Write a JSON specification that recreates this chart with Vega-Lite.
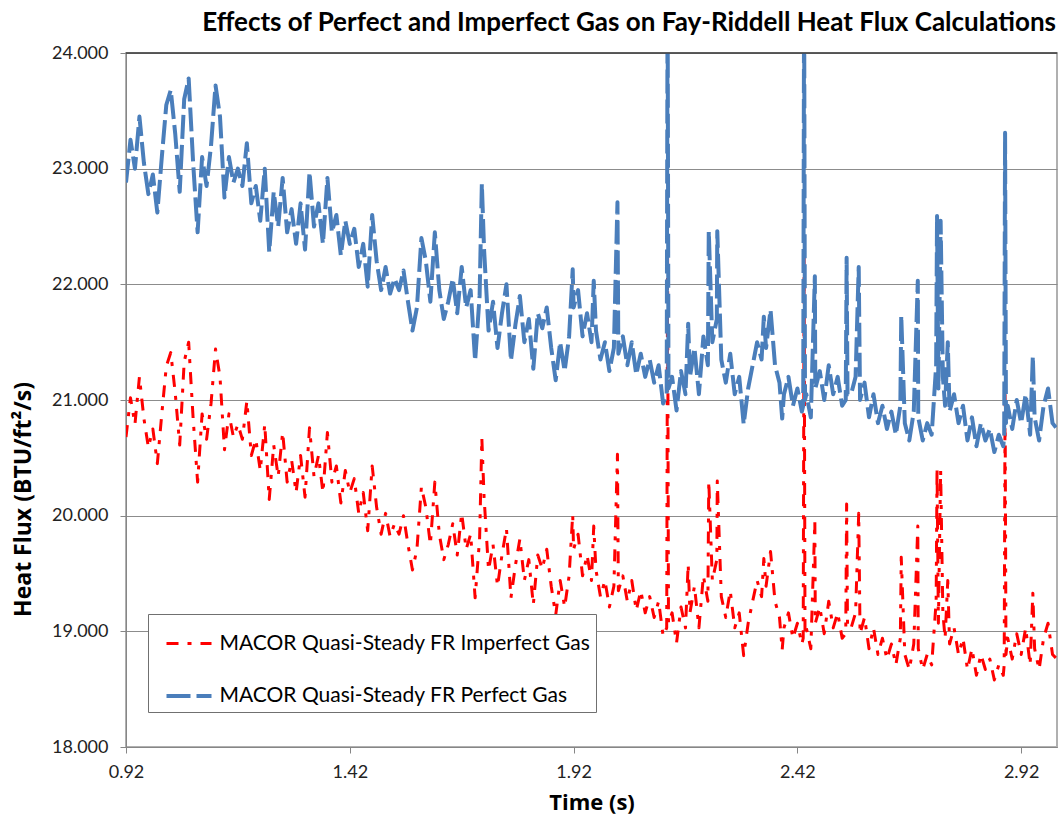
{
"$schema": "https://vega.github.io/schema/vega-lite/v6.json",
"width": 931, "height": 694,
"autosize": {"type": "none"},
"padding": {"left": 126, "top": 53, "right": 2, "bottom": 76},
"background": "white",
"title": {"text": "Effects of Perfect and Imperfect Gas on Fay-Riddell Heat Flux Calculations", "anchor": "end", "frame": "group", "font": "Lato", "fontSize": 26, "fontWeight": "bold", "color": "#000000", "offset": 8, "dx": -1},
"config": {"view": {"stroke": "#b0b0b0", "strokeWidth": 2}},
"layer": [
{
"data": {"values": [
{"t":0.92,"Perfect":22.88,"Imperfect":20.68},{"t":0.93,"Perfect":23.25,"Imperfect":21.02},{"t":0.94,"Perfect":23.00,"Imperfect":20.79},{"t":0.95,"Perfect":23.45,"Imperfect":21.20},{"t":0.96,"Perfect":23.05,"Imperfect":20.84},{"t":0.97,"Perfect":22.78,"Imperfect":20.59},{"t":0.98,"Perfect":22.95,"Imperfect":20.75},{"t":0.99,"Perfect":22.62,"Imperfect":20.45},
{"t":1.00,"Perfect":23.10,"Imperfect":20.88},{"t":1.01,"Perfect":23.55,"Imperfect":21.29},{"t":1.02,"Perfect":23.68,"Imperfect":21.41},{"t":1.03,"Perfect":23.30,"Imperfect":21.06},{"t":1.04,"Perfect":22.80,"Imperfect":20.61},{"t":1.05,"Perfect":23.60,"Imperfect":21.33},{"t":1.06,"Perfect":23.78,"Imperfect":21.50},{"t":1.07,"Perfect":23.05,"Imperfect":20.84},{"t":1.08,"Perfect":22.45,"Imperfect":20.29},{"t":1.09,"Perfect":23.10,"Imperfect":20.88},
{"t":1.10,"Perfect":22.85,"Imperfect":20.66},{"t":1.11,"Perfect":23.20,"Imperfect":20.97},{"t":1.12,"Perfect":23.72,"Imperfect":21.44},{"t":1.13,"Perfect":23.45,"Imperfect":21.20},{"t":1.14,"Perfect":22.75,"Imperfect":20.57},{"t":1.15,"Perfect":23.10,"Imperfect":20.88},{"t":1.16,"Perfect":22.88,"Imperfect":20.68},{"t":1.17,"Perfect":23.00,"Imperfect":20.79},{"t":1.18,"Perfect":22.85,"Imperfect":20.66},{"t":1.19,"Perfect":23.22,"Imperfect":20.99},
{"t":1.20,"Perfect":22.70,"Imperfect":20.52},{"t":1.21,"Perfect":22.85,"Imperfect":20.66},{"t":1.22,"Perfect":22.55,"Imperfect":20.39},{"t":1.23,"Perfect":23.00,"Imperfect":20.79},{"t":1.24,"Perfect":22.28,"Imperfect":20.14},{"t":1.25,"Perfect":22.80,"Imperfect":20.61},{"t":1.26,"Perfect":22.50,"Imperfect":20.34},{"t":1.27,"Perfect":22.92,"Imperfect":20.72},{"t":1.28,"Perfect":22.45,"Imperfect":20.29},{"t":1.29,"Perfect":22.65,"Imperfect":20.48},
{"t":1.30,"Perfect":22.35,"Imperfect":20.20},{"t":1.31,"Perfect":22.70,"Imperfect":20.52},{"t":1.32,"Perfect":22.30,"Imperfect":20.16},{"t":1.33,"Perfect":22.97,"Imperfect":20.76},{"t":1.34,"Perfect":22.50,"Imperfect":20.34},{"t":1.35,"Perfect":22.70,"Imperfect":20.52},{"t":1.36,"Perfect":22.35,"Imperfect":20.20},{"t":1.37,"Perfect":22.92,"Imperfect":20.72},{"t":1.38,"Perfect":22.45,"Imperfect":20.29},{"t":1.39,"Perfect":22.60,"Imperfect":20.43},
{"t":1.40,"Perfect":22.25,"Imperfect":20.11},{"t":1.41,"Perfect":22.55,"Imperfect":20.39},{"t":1.42,"Perfect":22.35,"Imperfect":20.20},{"t":1.43,"Perfect":22.48,"Imperfect":20.32},{"t":1.44,"Perfect":22.15,"Imperfect":20.02},{"t":1.45,"Perfect":22.35,"Imperfect":20.20},{"t":1.46,"Perfect":21.98,"Imperfect":19.87},{"t":1.47,"Perfect":22.60,"Imperfect":20.43},{"t":1.48,"Perfect":22.20,"Imperfect":20.07},{"t":1.49,"Perfect":21.95,"Imperfect":19.84},
{"t":1.50,"Perfect":22.15,"Imperfect":20.02},{"t":1.51,"Perfect":21.92,"Imperfect":19.82},{"t":1.52,"Perfect":22.05,"Imperfect":19.93},{"t":1.53,"Perfect":21.95,"Imperfect":19.84},{"t":1.54,"Perfect":22.12,"Imperfect":20.00},{"t":1.55,"Perfect":21.85,"Imperfect":19.75},{"t":1.56,"Perfect":21.60,"Imperfect":19.53},{"t":1.57,"Perfect":21.80,"Imperfect":19.71},{"t":1.58,"Perfect":22.40,"Imperfect":20.25},{"t":1.59,"Perfect":22.20,"Imperfect":20.07},
{"t":1.60,"Perfect":21.85,"Imperfect":19.75},{"t":1.61,"Perfect":22.45,"Imperfect":20.29},{"t":1.62,"Perfect":21.95,"Imperfect":19.84},{"t":1.63,"Perfect":21.70,"Imperfect":19.62},{"t":1.64,"Perfect":21.85,"Imperfect":19.75},{"t":1.65,"Perfect":22.05,"Imperfect":19.93},{"t":1.66,"Perfect":21.75,"Imperfect":19.66},{"t":1.67,"Perfect":22.15,"Imperfect":20.02},{"t":1.68,"Perfect":21.80,"Imperfect":19.71},{"t":1.69,"Perfect":21.95,"Imperfect":19.84},
{"t":1.70,"Perfect":21.34,"Imperfect":19.29},{"t":1.71,"Perfect":21.90,"Imperfect":19.80},{"t":1.715,"Perfect":22.87,"Imperfect":20.67},{"t":1.72,"Perfect":22.30,"Imperfect":20.16},{"t":1.73,"Perfect":21.60,"Imperfect":19.53},{"t":1.74,"Perfect":21.85,"Imperfect":19.75},{"t":1.75,"Perfect":21.45,"Imperfect":19.39},{"t":1.76,"Perfect":21.75,"Imperfect":19.66},{"t":1.77,"Perfect":22.00,"Imperfect":19.89},{"t":1.78,"Perfect":21.34,"Imperfect":19.29},{"t":1.79,"Perfect":21.65,"Imperfect":19.57},
{"t":1.80,"Perfect":21.90,"Imperfect":19.80},{"t":1.81,"Perfect":21.50,"Imperfect":19.44},{"t":1.82,"Perfect":21.70,"Imperfect":19.62},{"t":1.83,"Perfect":21.27,"Imperfect":19.23},{"t":1.84,"Perfect":21.75,"Imperfect":19.66},{"t":1.85,"Perfect":21.62,"Imperfect":19.54},{"t":1.86,"Perfect":21.80,"Imperfect":19.71},{"t":1.87,"Perfect":21.45,"Imperfect":19.39},{"t":1.88,"Perfect":21.17,"Imperfect":19.14},{"t":1.89,"Perfect":21.50,"Imperfect":19.44},
{"t":1.90,"Perfect":21.25,"Imperfect":19.21},{"t":1.91,"Perfect":21.55,"Imperfect":19.48},{"t":1.918,"Perfect":22.13,"Imperfect":20.01},{"t":1.92,"Perfect":21.80,"Imperfect":19.71},{"t":1.93,"Perfect":21.95,"Imperfect":19.84},{"t":1.94,"Perfect":21.55,"Imperfect":19.48},{"t":1.95,"Perfect":21.75,"Imperfect":19.66},{"t":1.96,"Perfect":21.50,"Imperfect":19.44},{"t":1.965,"Perfect":22.03,"Imperfect":19.91},{"t":1.97,"Perfect":21.60,"Imperfect":19.53},{"t":1.98,"Perfect":21.35,"Imperfect":19.30},{"t":1.99,"Perfect":21.50,"Imperfect":19.44},
{"t":2.00,"Perfect":21.25,"Imperfect":19.21},{"t":2.01,"Perfect":21.45,"Imperfect":19.39},{"t":2.018,"Perfect":22.71,"Imperfect":20.53},{"t":2.02,"Perfect":21.40,"Imperfect":19.35},{"t":2.03,"Perfect":21.55,"Imperfect":19.48},{"t":2.04,"Perfect":21.30,"Imperfect":19.26},{"t":2.05,"Perfect":21.50,"Imperfect":19.44},{"t":2.06,"Perfect":21.22,"Imperfect":19.18},{"t":2.07,"Perfect":21.40,"Imperfect":19.35},{"t":2.08,"Perfect":21.20,"Imperfect":19.16},{"t":2.09,"Perfect":21.35,"Imperfect":19.30},
{"t":2.10,"Perfect":21.15,"Imperfect":19.12},{"t":2.11,"Perfect":21.30,"Imperfect":19.26},{"t":2.12,"Perfect":20.97,"Imperfect":18.96},{"t":2.128,"Perfect":21.05,"Imperfect":19.03},{"t":2.13,"Perfect":24.60,"Imperfect":22.24},{"t":2.132,"Perfect":21.10,"Imperfect":19.07},{"t":2.14,"Perfect":21.20,"Imperfect":19.16},{"t":2.15,"Perfect":20.91,"Imperfect":18.90},{"t":2.16,"Perfect":21.25,"Imperfect":19.21},{"t":2.17,"Perfect":21.05,"Imperfect":19.03},{"t":2.176,"Perfect":21.66,"Imperfect":19.58},{"t":2.18,"Perfect":21.20,"Imperfect":19.16},{"t":2.19,"Perfect":21.45,"Imperfect":19.39},
{"t":2.20,"Perfect":21.05,"Imperfect":19.03},{"t":2.21,"Perfect":21.55,"Imperfect":19.48},{"t":2.22,"Perfect":21.30,"Imperfect":19.26},{"t":2.222,"Perfect":22.46,"Imperfect":20.30},{"t":2.23,"Perfect":21.50,"Imperfect":19.44},{"t":2.24,"Perfect":21.70,"Imperfect":19.62},{"t":2.241,"Perfect":22.46,"Imperfect":20.30},{"t":2.25,"Perfect":21.35,"Imperfect":19.30},{"t":2.26,"Perfect":21.15,"Imperfect":19.12},{"t":2.27,"Perfect":21.40,"Imperfect":19.35},{"t":2.28,"Perfect":21.05,"Imperfect":19.03},{"t":2.29,"Perfect":21.20,"Imperfect":19.16},
{"t":2.30,"Perfect":20.79,"Imperfect":18.79},{"t":2.31,"Perfect":21.10,"Imperfect":19.07},{"t":2.32,"Perfect":21.30,"Imperfect":19.26},{"t":2.33,"Perfect":21.50,"Imperfect":19.44},{"t":2.34,"Perfect":21.35,"Imperfect":19.30},{"t":2.345,"Perfect":21.72,"Imperfect":19.63},{"t":2.35,"Perfect":21.45,"Imperfect":19.39},{"t":2.36,"Perfect":21.78,"Imperfect":19.69},{"t":2.37,"Perfect":21.30,"Imperfect":19.26},{"t":2.38,"Perfect":21.15,"Imperfect":19.12},{"t":2.386,"Perfect":20.84,"Imperfect":18.84},{"t":2.39,"Perfect":21.05,"Imperfect":19.03},
{"t":2.40,"Perfect":21.20,"Imperfect":19.16},{"t":2.41,"Perfect":20.95,"Imperfect":18.94},{"t":2.42,"Perfect":21.10,"Imperfect":19.07},{"t":2.43,"Perfect":20.90,"Imperfect":18.89},{"t":2.433,"Perfect":20.95,"Imperfect":18.94},{"t":2.435,"Perfect":24.60,"Imperfect":22.24},{"t":2.437,"Perfect":21.00,"Imperfect":18.98},{"t":2.44,"Perfect":21.05,"Imperfect":19.03},{"t":2.45,"Perfect":20.85,"Imperfect":18.85},{"t":2.459,"Perfect":22.07,"Imperfect":19.95},{"t":2.46,"Perfect":21.10,"Imperfect":19.07},{"t":2.47,"Perfect":21.25,"Imperfect":19.21},{"t":2.48,"Perfect":21.00,"Imperfect":18.98},{"t":2.49,"Perfect":21.30,"Imperfect":19.26},
{"t":2.50,"Perfect":21.05,"Imperfect":19.03},{"t":2.51,"Perfect":21.20,"Imperfect":19.16},{"t":2.52,"Perfect":20.95,"Imperfect":18.94},{"t":2.528,"Perfect":21.00,"Imperfect":18.98},{"t":2.53,"Perfect":22.23,"Imperfect":20.10},{"t":2.532,"Perfect":21.05,"Imperfect":19.03},{"t":2.54,"Perfect":21.05,"Imperfect":19.03},{"t":2.55,"Perfect":21.20,"Imperfect":19.16},{"t":2.557,"Perfect":22.15,"Imperfect":20.02},{"t":2.56,"Perfect":21.00,"Imperfect":18.98},{"t":2.57,"Perfect":21.15,"Imperfect":19.12},{"t":2.58,"Perfect":20.85,"Imperfect":18.85},{"t":2.59,"Perfect":21.05,"Imperfect":19.03},
{"t":2.60,"Perfect":20.80,"Imperfect":18.80},{"t":2.61,"Perfect":20.95,"Imperfect":18.94},{"t":2.62,"Perfect":20.75,"Imperfect":18.76},{"t":2.63,"Perfect":20.90,"Imperfect":18.89},{"t":2.64,"Perfect":20.70,"Imperfect":18.71},{"t":2.65,"Perfect":20.95,"Imperfect":18.94},{"t":2.652,"Perfect":21.73,"Imperfect":19.64},{"t":2.66,"Perfect":20.80,"Imperfect":18.80},{"t":2.67,"Perfect":20.65,"Imperfect":18.67},{"t":2.68,"Perfect":20.90,"Imperfect":18.89},{"t":2.689,"Perfect":22.03,"Imperfect":19.91},{"t":2.69,"Perfect":20.85,"Imperfect":18.85},
{"t":2.70,"Perfect":20.65,"Imperfect":18.67},{"t":2.71,"Perfect":20.80,"Imperfect":18.80},{"t":2.72,"Perfect":20.70,"Imperfect":18.71},{"t":2.73,"Perfect":21.30,"Imperfect":19.26},{"t":2.732,"Perfect":22.59,"Imperfect":20.42},{"t":2.735,"Perfect":21.10,"Imperfect":19.07},{"t":2.74,"Perfect":22.55,"Imperfect":20.39},{"t":2.745,"Perfect":21.20,"Imperfect":19.16},{"t":2.75,"Perfect":20.95,"Imperfect":18.94},{"t":2.756,"Perfect":21.50,"Imperfect":19.44},{"t":2.76,"Perfect":20.90,"Imperfect":18.89},{"t":2.77,"Perfect":21.05,"Imperfect":19.03},{"t":2.78,"Perfect":20.80,"Imperfect":18.80},{"t":2.79,"Perfect":20.95,"Imperfect":18.94},
{"t":2.80,"Perfect":20.65,"Imperfect":18.67},{"t":2.81,"Perfect":20.85,"Imperfect":18.85},{"t":2.82,"Perfect":20.60,"Imperfect":18.62},{"t":2.83,"Perfect":20.80,"Imperfect":18.80},{"t":2.84,"Perfect":20.65,"Imperfect":18.67},{"t":2.85,"Perfect":20.75,"Imperfect":18.76},{"t":2.86,"Perfect":20.55,"Imperfect":18.58},{"t":2.87,"Perfect":20.70,"Imperfect":18.71},{"t":2.88,"Perfect":20.60,"Imperfect":18.62},{"t":2.882,"Perfect":20.70,"Imperfect":18.71},{"t":2.884,"Perfect":23.31,"Imperfect":21.07},{"t":2.886,"Perfect":20.80,"Imperfect":18.80},{"t":2.89,"Perfect":20.95,"Imperfect":18.94},
{"t":2.90,"Perfect":20.75,"Imperfect":18.76},{"t":2.91,"Perfect":21.00,"Imperfect":18.98},{"t":2.92,"Perfect":20.80,"Imperfect":18.80},{"t":2.93,"Perfect":21.05,"Imperfect":19.03},{"t":2.94,"Perfect":20.70,"Imperfect":18.71},{"t":2.946,"Perfect":21.38,"Imperfect":19.33},{"t":2.95,"Perfect":20.85,"Imperfect":18.85},{"t":2.96,"Perfect":20.65,"Imperfect":18.67},{"t":2.97,"Perfect":20.95,"Imperfect":18.94},{"t":2.98,"Perfect":21.10,"Imperfect":19.07},{"t":2.99,"Perfect":20.80,"Imperfect":18.80},{"t":3.00,"Perfect":20.75,"Imperfect":18.76}
]},
"transform": [{"fold": ["Imperfect", "Perfect"], "as": ["series", "value"]}],
"mark": {"type": "line", "clip": true, "strokeJoin": "round", "strokeCap": "butt"},
"encoding": {
"x": {"field": "t", "type": "quantitative", "scale": {"domain": [0.92, 3.0], "nice": false, "zero": false},
 "axis": {"values": [0.92, 1.42, 1.92, 2.42, 2.92], "format": ".2f", "grid": false, "tickSize": 6, "tickColor": "#868686", "domainColor": "#868686", "labelPadding": 10, "labelFlush": false, "labelOverlap": false, "labelFont": "Lato", "labelFontSize": 18, "labelColor": "#222222", "title": "Time (s)", "titleFont": "Open Sans", "titleFontSize": 22, "titleFontWeight": "bold", "titleColor": "#000000", "titlePadding": 11}},
"y": {"field": "value", "type": "quantitative", "scale": {"domain": [18, 24], "nice": false, "zero": false},
 "axis": {"values": [18, 19, 20, 21, 22, 23, 24], "format": ".3f", "grid": true, "gridColor": "#8c8c8c", "tickSize": 6, "tickColor": "#868686", "domainColor": "#868686", "labelPadding": 12, "labelFont": "Lato", "labelFontSize": 18, "labelColor": "#222222", "title": "Heat Flux (BTU/ft²/s)", "titleFont": "Open Sans", "titleFontSize": 23, "titleFontWeight": "bold", "titleColor": "#000000", "titleAngle": 270, "titleX": -91, "titleY": 446, "titleBaseline": "bottom", "titleAlign": "center"}},
"color": {"field": "series", "type": "nominal", "scale": {"domain": ["Imperfect", "Perfect"], "range": ["#ff0000", "#4a7ebb"]},
 "legend": {"title": null, "orient": "none", "legendX": 22, "legendY": 561, "direction": "vertical", "labelExpr": "'MACOR Quasi-Steady FR ' + datum.label + ' Gas'", "labelFont": "Lato", "labelFontSize": 21, "labelColor": "#000000", "labelLimit": 0, "labelOffset": 6, "symbolOffset": 11, "symbolType": "stroke", "symbolSize": 2025, "symbolStrokeWidth": 3, "rowPadding": 18, "padding": 5.5, "strokeColor": "#707070", "fillColor": "#ffffff"}},
"strokeDash": {"field": "series", "type": "nominal", "scale": {"domain": ["Imperfect", "Perfect"], "range": [[12, 9, 4, 9], [24, 6]]},
 "legend": {"title": null, "orient": "none", "legendX": 22, "legendY": 561, "direction": "vertical", "labelExpr": "'MACOR Quasi-Steady FR ' + datum.label + ' Gas'", "labelFont": "Lato", "labelFontSize": 21, "labelColor": "#000000", "labelLimit": 0, "labelOffset": 6, "symbolOffset": 11, "symbolType": "stroke", "symbolSize": 2025, "symbolStrokeWidth": 3, "rowPadding": 18, "padding": 5.5, "strokeColor": "#707070", "fillColor": "#ffffff"}},
"strokeWidth": {"field": "series", "type": "nominal", "scale": {"domain": ["Imperfect", "Perfect"], "range": [3, 4]}, "legend": null}
}
},
{
"data": {"values": [{"top": 24}]},
"mark": {"type": "rule", "color": "#404040", "strokeWidth": 1.5},
"encoding": {"y": {"field": "top", "type": "quantitative"}}
}
]
}
